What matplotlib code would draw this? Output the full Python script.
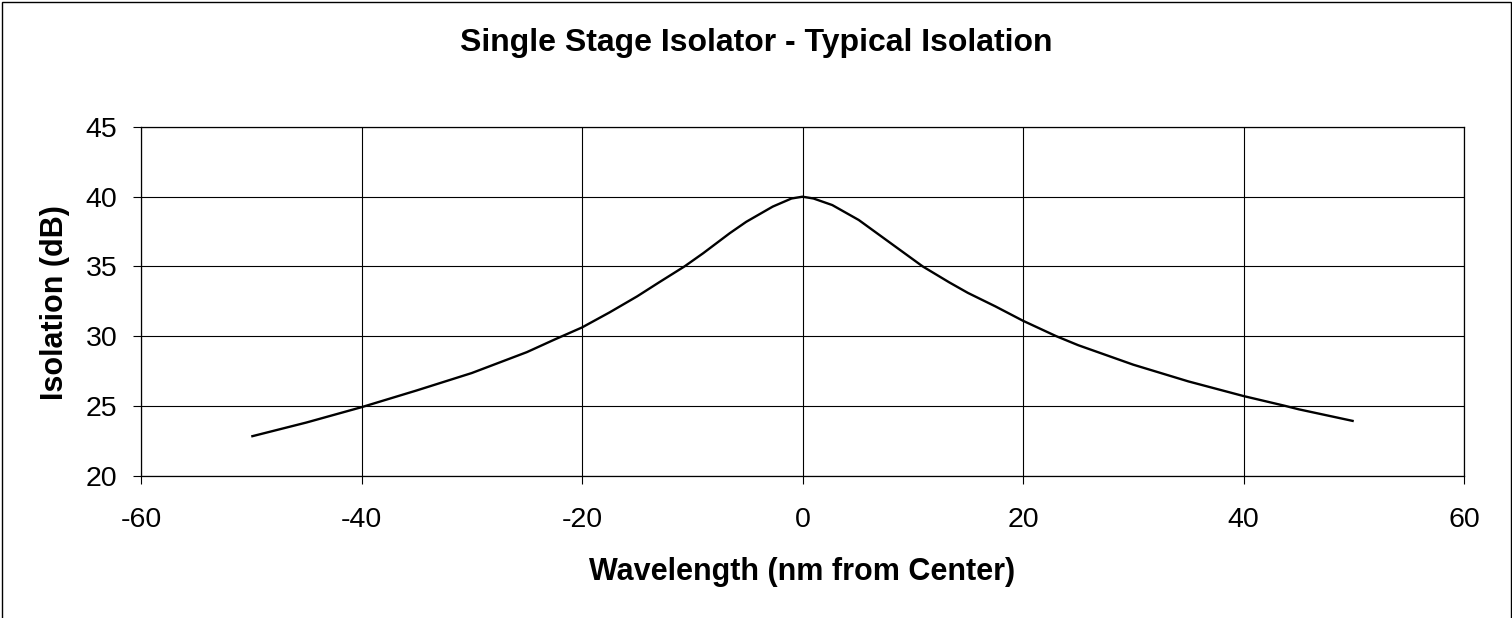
import matplotlib
matplotlib.use("Agg")
import matplotlib.pyplot as plt
from matplotlib.patches import Rectangle

wavelength = [-50, -45, -40, -35, -30, -25, -22.5, -20, -17.5, -15, -13, -10.7, -9, -6.6, -5.1,
              -2.7, -1, 0, 1, 2.7, 5.1, 8.2, 10.9, 13.3, 15, 17.5, 20, 23, 25, 30, 35, 40,
              43.75, 45, 50]
isolation = [22.8, 23.8, 24.9, 26.1, 27.35, 28.85, 29.75, 30.62, 31.7, 32.85, 33.86, 35.0, 35.95,
             37.38, 38.2, 39.29, 39.87, 40.0, 39.87, 39.4, 38.33, 36.55, 35.0, 33.86, 33.1,
             32.13, 31.1, 30.0, 29.35, 27.95, 26.75, 25.7, 25.0, 24.75, 23.9]
x_ticks = [-60, -40, -20, 0, 20, 40, 60]
y_ticks = [20, 25, 30, 35, 40, 45]

plt.rcParams['font.family'] = ['Liberation Sans', 'DejaVu Sans']
plt.rcParams['axes.unicode_minus'] = False

W, H = 1512, 618
fig = plt.figure(figsize=(W / 100, H / 100), dpi=100)
ax = fig.add_axes([141 / W, 1 - 475.5 / H, (1464 - 141) / W, 348.5 / H])

ax.plot(wavelength, isolation, color='black', lw=1.7, solid_joinstyle='round',
        solid_capstyle='butt')
ax.set_xlim(-60, 60)
ax.set_ylim(20, 45)
ax.set_xticks(x_ticks)
ax.set_yticks(y_ticks)
ax.grid(True, color='black', lw=0.8)
ax.set_axisbelow(True)
for s in ax.spines.values():
    s.set_color('black')
    s.set_linewidth(0.9)
ax.tick_params(direction='out', length=6, width=0.8, color='black', labelsize=20.5)
ax.tick_params(axis='y', pad=11)
ax.tick_params(axis='x', pad=16.5)

fig.text(802.5 / W, 1 - 580 / H, 'Wavelength (nm from Center)', ha='center', va='baseline',
         fontsize=22, fontweight='bold')
fig.text(54.5 / W, 1 - 302.5 / H, 'Isolation (dB)', ha='center', va='center', rotation=90,
         fontsize=22, fontweight='bold')
fig.text(0.5, 1 - 50.7 / H, 'Single Stage Isolator - Typical Isolation', ha='center',
         va='baseline', fontsize=23, fontweight='bold')

fig.add_artist(Rectangle((1.5 / W, -0.01), (W - 3) / W, 1.0 - 1.5 / H + 0.01,
                         transform=fig.transFigure, fill=False, edgecolor='black', lw=1.0))

fig.savefig('out.png', dpi=100)
